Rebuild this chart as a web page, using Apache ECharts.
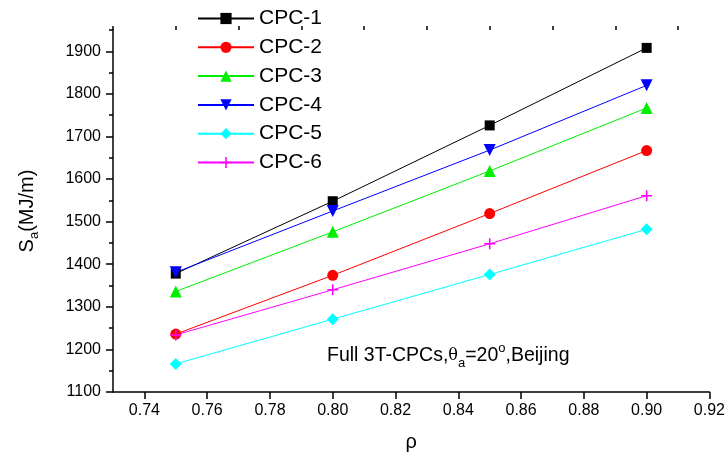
<!DOCTYPE html>
<html>
<head>
<meta charset="utf-8">
<script src="https://cdn.jsdelivr.net/npm/echarts@6/dist/echarts.min.js"></script>
<style>
  html, body { margin: 0; padding: 0; background: #fff; }
  #graph { width: 728px; height: 459px; }
</style>
</head>
<body>
<div id="graph"></div>
<script>
const rho = [0.75, 0.80, 0.85, 0.90];
const cpc1 = [1378, 1548, 1726, 1908];
const cpc2 = [1236, 1374, 1519, 1667];
const cpc3 = [1336, 1476, 1619, 1767];
const cpc4 = [1381, 1525, 1668, 1820];
const cpc5 = [1166, 1271, 1376, 1482];
const cpc6 = [1234, 1340, 1448, 1561];

const xMajor = [0.74, 0.76, 0.78, 0.80, 0.82, 0.84, 0.86, 0.88, 0.90, 0.92];
const xMinor = [0.73, 0.75, 0.77, 0.79, 0.81, 0.83, 0.85, 0.87, 0.89, 0.91];
const yMajor = [1100, 1200, 1300, 1400, 1500, 1600, 1700, 1800, 1900];
const yMinor = [1150, 1250, 1350, 1450, 1550, 1650, 1750, 1850, 1950];

const font = 'Liberation Sans, Arial, sans-serif';
const plus = 'path://M4.3,0H5.7V4.3H10V5.7H5.7V10H4.3V5.7H0V4.3H4.3Z';

const myChart = echarts.init(document.getElementById('graph'));

function pts(vals) {
  return vals.map((v, i) => [rho[i], v]);
}

function line(name, vals, color, symbol, size, rotate) {
  return {
    name: name,
    type: 'line',
    data: pts(vals),
    symbol: symbol,
    symbolSize: size,
    symbolRotate: rotate || 0,
    showAllSymbol: true,
    animation: false,
    itemStyle: { color: color },
    lineStyle: { color: color, width: 1 }
  };
}

const xBase = {
  type: 'value', min: 0.73, max: 0.92,
  axisLine: { show: true, lineStyle: { color: '#000', width: 1.5 } },
  splitLine: { show: false }
};
const yBase = {
  type: 'value', min: 1100, max: 1950,
  axisLine: { show: true, lineStyle: { color: '#000', width: 1.5 } },
  splitLine: { show: false }
};

let option = {
  backgroundColor: '#fff',
  grid: { left: 113, right: 17, top: 30, bottom: 67 },
  legend: {
    orient: 'vertical',
    left: 192,
    top: 3,
    itemWidth: 56,
    itemHeight: 14,
    itemGap: 7.8,
    textStyle: { fontFamily: font, fontSize: 21, color: '#000', lineHeight: 20.5 },
    data: ['CPC-1', 'CPC-2', 'CPC-3', 'CPC-4', 'CPC-5', 'CPC-6']
  },
  xAxis: [
    Object.assign({}, xBase, {
      name: 'ρ',
      nameLocation: 'middle',
      nameGap: 40,
      nameTextStyle: { fontFamily: font, fontSize: 20, color: '#000' },
      axisTick: { show: true, inside: false, length: 7, lineStyle: { color: '#000', width: 1.5 }, customValues: xMajor },
      axisLabel: { show: true, margin: 11, fontFamily: font, fontSize: 16, color: '#000', customValues: xMajor,
        formatter: v => v.toFixed(2) }
    }),
    Object.assign({}, xBase, {
      axisLine: { show: false },
      axisTick: { show: true, inside: false, length: 4, lineStyle: { color: '#000', width: 1.5 }, customValues: xMinor },
      axisLabel: { show: false }
    })
  ],
  yAxis: [
    Object.assign({}, yBase, {
      name: 'S{sub|a}(MJ/m)',
      nameLocation: 'middle',
      nameGap: 72,
      nameRotate: 90,
      nameTextStyle: {
        fontFamily: font, fontSize: 20, color: '#000', lineHeight: 28,
        rich: { sub: { fontFamily: font, fontSize: 13, color: '#000', verticalAlign: 'bottom', lineHeight: 28 } }
      },
      axisTick: { show: true, inside: false, length: 7, lineStyle: { color: '#000', width: 1.5 }, customValues: yMajor },
      axisLabel: { show: true, margin: 12, fontFamily: font, fontSize: 16, color: '#000', customValues: yMajor,
        formatter: v => String(v) }
    }),
    Object.assign({}, yBase, {
      position: 'left',
      axisLine: { show: false },
      axisTick: { show: true, inside: false, length: 4, lineStyle: { color: '#000', width: 1.5 }, customValues: yMinor },
      axisLabel: { show: false }
    })
  ],
  graphic: [
    {
      type: 'text',
      left: 327,
      top: 342,
      style: {
        text: 'Full 3T-CPCs,{g|θ}{sub|a}=20{sup|o},Beijing',
        fontFamily: font,
        fontSize: 19.5,
        fill: '#000',
        lineHeight: 28,
        rich: {
          g: { fontFamily: 'DejaVu Serif, serif', fontSize: 16, fill: '#000', lineHeight: 28 },
          sub: { fontFamily: font, fontSize: 13, fill: '#000', verticalAlign: 'bottom', lineHeight: 28 },
          sup: { fontFamily: font, fontSize: 13, fill: '#000', verticalAlign: 'top', lineHeight: 28 }
        }
      }
    }
  ],
  series: [
    line('CPC-1', cpc1, '#000000', 'rect', 10),
    line('CPC-2', cpc2, '#ff0000', 'circle', 11),
    line('CPC-3', cpc3, '#00ee00', 'triangle', 12),
    line('CPC-4', cpc4, '#0000ff', 'triangle', 12, 180),
    line('CPC-5', cpc5, '#00ffff', 'diamond', 12),
    line('CPC-6', cpc6, '#ff00ff', plus, 11)
  ]
};

myChart.setOption(option);
</script>
</body>
</html>
